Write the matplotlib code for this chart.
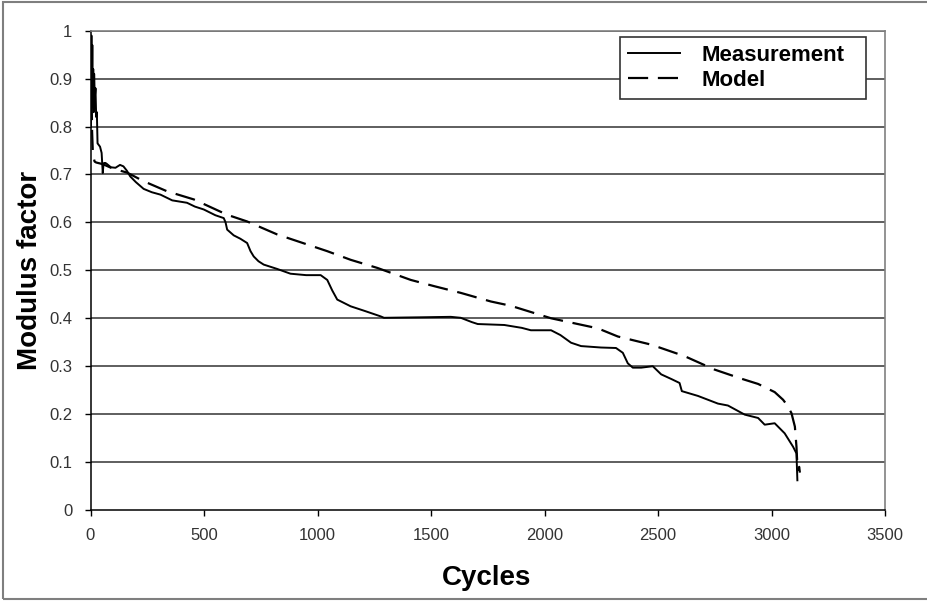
import matplotlib
matplotlib.use("Agg")
import matplotlib.pyplot as plt
from matplotlib.patches import Rectangle

plt.rcParams['font.family'] = ['Liberation Sans', 'DejaVu Sans']
plt.rcParams['lines.scale_dashes'] = False

# ---- data ----
meas_cycles = [2, 4, 6, 8, 10, 12, 14, 16, 19, 22, 25, 28, 31, 42, 49, 54, 57, 60, 66,
               72, 90, 110, 130, 145, 160, 175, 200, 234, 270, 308, 360, 425, 460, 499,
               550, 587, 595, 602, 631, 660, 690, 705, 719, 740, 763, 822, 881, 950,
               1014, 1043, 1065, 1087, 1146, 1210, 1278, 1293, 1450, 1587, 1631, 1680,
               1706, 1823, 1900, 1940, 2029, 2070, 2117, 2161, 2249, 2315, 2345, 2367,
               2389, 2426, 2477, 2514, 2560, 2595, 2605, 2676, 2764, 2808, 2882, 2941,
               2970, 3014, 3058, 3095, 3110, 3112, 3114]
meas_values = [0.80, 0.99, 0.86, 0.97, 0.84, 0.92, 0.83, 0.91, 0.86, 0.88, 0.82, 0.83,
               0.765, 0.758, 0.745, 0.703, 0.72, 0.724, 0.724,
               0.722, 0.715, 0.714, 0.72, 0.717, 0.708, 0.696, 0.684, 0.670, 0.663,
               0.658, 0.646, 0.641, 0.633, 0.627,
               0.615, 0.609, 0.600, 0.585, 0.573, 0.566, 0.557, 0.540, 0.529, 0.519,
               0.512, 0.503, 0.493, 0.490,
               0.490, 0.480, 0.458, 0.439, 0.425, 0.415, 0.404, 0.401, 0.402, 0.403,
               0.401, 0.392,
               0.388, 0.386, 0.380, 0.375, 0.375, 0.365, 0.349, 0.342, 0.339, 0.338,
               0.328, 0.306,
               0.297, 0.297, 0.300, 0.283, 0.273, 0.265, 0.248, 0.238, 0.222, 0.218,
               0.199, 0.192,
               0.178, 0.181, 0.160, 0.132, 0.118, 0.090, 0.062]

model_cycles = [1, 3, 5, 7, 10, 14, 18, 25, 42, 57, 100, 161, 234, 337, 455, 602, 690,
                822, 1043, 1146, 1264, 1411, 1514, 1631, 1764, 1852, 2029, 2235, 2323,
                2470, 2617, 2749, 2867, 2941, 3014, 3051, 3070, 3088, 3103, 3110, 3115,
                3122, 3125]
model_values = [0.98, 0.93, 0.86, 0.79, 0.75, 0.735, 0.727, 0.725, 0.723, 0.721, 0.712,
                0.704, 0.686, 0.665, 0.648, 0.616, 0.602,
                0.575, 0.540, 0.522, 0.505, 0.480, 0.467, 0.453, 0.435, 0.426, 0.400,
                0.379, 0.362,
                0.345, 0.321, 0.293, 0.274, 0.263, 0.246, 0.230, 0.218, 0.202, 0.174,
                0.132, 0.083,
                0.090, 0.078]

x_ticks = [0, 500, 1000, 1500, 2000, 2500, 3000, 3500]
y_ticks = [0, 0.1, 0.2, 0.3, 0.4, 0.5, 0.6, 0.7, 0.8, 0.9, 1]
y_tick_labels = ['0', '0.1', '0.2', '0.3', '0.4', '0.5', '0.6', '0.7', '0.8', '0.9', '1']

W, H = 927, 601
fig = plt.figure(figsize=(W / 100, H / 100), dpi=100)
fig.patch.set_facecolor('white')

# outer chart border
fig.patches.append(Rectangle((2.5 / W, 2.5 / H), (W + 10) / W, (H - 4.5) / H,
                             transform=fig.transFigure, fill=False,
                             edgecolor='#7f7f7f', linewidth=1.5, zorder=0))

ax = fig.add_axes([90.5 / W, (H - 510) / H, (885 - 90.5) / W, (510 - 30.7) / H])
ax.set_xlim(0, 3500)
ax.set_ylim(0, 1)

for v in y_ticks[1:]:
    ax.axhline(v, color='#333333', linewidth=1.1, zorder=1)

ax.plot(meas_cycles, meas_values, color='black', linewidth=1.4,
        label='Measurement', zorder=3)
ax.plot(model_cycles, model_values, color='black', linewidth=1.6,
        linestyle=(0, (14.5, 7.0)), label='Model', zorder=3)

ax.set_xticks(x_ticks)
ax.set_yticks(y_ticks)
ax.set_yticklabels(y_tick_labels)
ax.tick_params(axis='both', direction='out', length=4, width=1, color='black',
               labelsize=12, labelcolor='#333333')
ax.tick_params(axis='y', pad=9)
ax.tick_params(axis='x', pad=9)

ax.spines['left'].set_color('black')
ax.spines['bottom'].set_color('black')
ax.spines['left'].set_linewidth(1.1)
ax.spines['bottom'].set_linewidth(1.1)
ax.spines['top'].set_color('#808080')
ax.spines['right'].set_color('#808080')
ax.spines['top'].set_linewidth(1.2)
ax.spines['right'].set_linewidth(1.2)

ax.set_xlabel('Cycles', fontsize=20, fontweight='bold')
ax.xaxis.set_label_coords(0.499, -0.115)
ax.set_ylabel('Modulus factor', fontsize=20, fontweight='bold', ha='center', va='center')
ax.yaxis.set_label_coords(-0.076, 0.50)

leg = ax.legend(loc='upper left', bbox_to_anchor=(0.6665, 0.987, 0.3095, 0.0),
                mode='expand', prop={'weight': 'bold', 'size': 16},
                frameon=True, fancybox=False, shadow=False, borderpad=0.35,
                handlelength=2.35, handletextpad=0.95, labelspacing=0.2,
                borderaxespad=0.0)
leg.get_frame().set_edgecolor('#333333')
leg.get_frame().set_linewidth(1.2)
leg.get_frame().set_alpha(1)
leg.set_zorder(5)

fig.savefig('out.png', dpi=100, facecolor='white')
